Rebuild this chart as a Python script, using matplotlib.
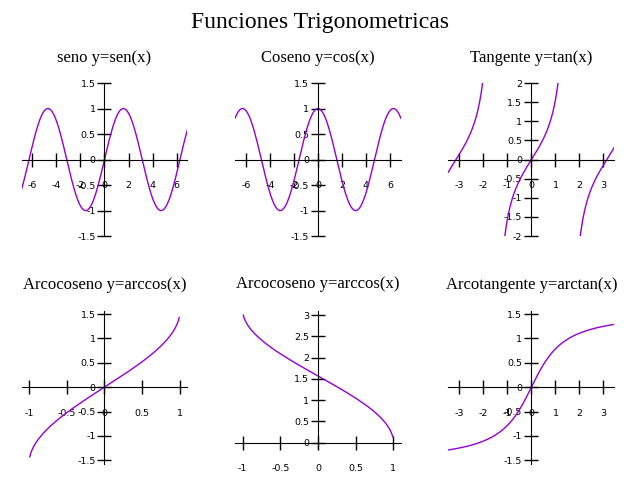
import numpy as np
import matplotlib
matplotlib.use('Agg')
import matplotlib.pyplot as plt

# datos de cada grafica
x_trig = np.linspace(-2.2 * np.pi, 2.2 * np.pi, 600)
x_tan = np.linspace(-1.1 * np.pi, 1.1 * np.pi, 2000)
x_arc = np.linspace(-0.99, 0.99, 400)
x_atan = np.linspace(-1.1 * np.pi, 1.1 * np.pi, 400)

y_sen = np.sin(x_trig)
y_cos = np.cos(x_trig)
y_tan = np.tan(x_tan)
y_tan[np.abs(y_tan) > 2.5] = np.nan
y_asen = np.arcsin(x_arc)
y_acos = np.arccos(x_arc)
y_atan = np.arctan(x_atan)

titulos = ['seno y=sen(x)', 'Coseno y=cos(x)', 'Tangente y=tan(x)',
           'Arcocoseno y=arccos(x)', 'Arcocoseno y=arccos(x)', 'Arcotangente y=arctan(x)']

xs = [x_trig, x_trig, x_tan, x_arc, x_arc, x_atan]
ys = [y_sen, y_cos, y_tan, y_asen, y_acos, y_atan]

xticks = [np.arange(-6, 7, 2), np.arange(-6, 7, 2), np.arange(-3, 4, 1),
          [-1, -0.5, 0, 0.5, 1], [-1, -0.5, 0, 0.5, 1], np.arange(-3, 4, 1)]
yticks = [[-1.5, -1, -0.5, 0, 0.5, 1, 1.5], [-1.5, -1, -0.5, 0, 0.5, 1, 1.5],
          [-2, -1.5, -1, -0.5, 0, 0.5, 1, 1.5, 2],
          [-1.5, -1, -0.5, 0, 0.5, 1, 1.5], [0, 0.5, 1, 1.5, 2, 2.5, 3],
          [-1.5, -1, -0.5, 0, 0.5, 1, 1.5]]

xlims = [(-2.2 * np.pi, 2.2 * np.pi), (-2.2 * np.pi, 2.2 * np.pi), (-1.1 * np.pi, 1.1 * np.pi),
         (-1.1, 1.1), (-1.1, 1.1), (-1.1 * np.pi, 1.1 * np.pi)]
ylims = [(-1.5, 1.5), (-1.5, 1.5), (-2, 2), (-np.pi / 2, np.pi / 2), (-0.15, 3.1),
         (-np.pi / 2, np.pi / 2)]


def etiqueta(v):
    if float(v).is_integer():
        return str(int(v))
    return str(v)


fig, axs = plt.subplots(2, 3, figsize=(6.4, 4.8), dpi=100)
fig.subplots_adjust(left=0.0336, right=0.960, top=0.827, bottom=0.034,
                    wspace=0.286, hspace=0.487)
fig.suptitle('Funciones Trigonometricas', fontsize=17, family='Liberation Serif', y=0.975)

for i, ax in enumerate(axs.flat):
    ax.plot(xs[i], ys[i], color='darkviolet', lw=1)
    ax.set_xlim(xlims[i])
    ax.set_ylim(ylims[i])
    ax.spines['left'].set_position(('data', 0))
    ax.spines['bottom'].set_position(('data', 0))
    ax.spines['top'].set_visible(False)
    ax.spines['right'].set_visible(False)
    ax.set_xticks(xticks[i])
    ax.set_yticks(yticks[i])
    ax.set_xticklabels([etiqueta(v) for v in xticks[i]])
    ax.set_yticklabels([etiqueta(v) for v in yticks[i]])
    ax.tick_params(axis='both', direction='inout', length=10, width=1, labelsize=6.8)
    ax.tick_params(axis='x', pad=10.5)
    ax.tick_params(axis='y', pad=1.5)
    ax.set_title(titulos[i], family='Liberation Serif', fontsize=12, pad=15.5)

# la grafica de arccos es mas baja
p = axs[1, 1].get_position()
axs[1, 1].set_position([p.x0, 1 - 449 / 480, p.width, 138 / 480])
axs[1, 1].set_title(titulos[4], family='Liberation Serif', fontsize=12, pad=16.2)

plt.savefig('out.png', dpi=100)
